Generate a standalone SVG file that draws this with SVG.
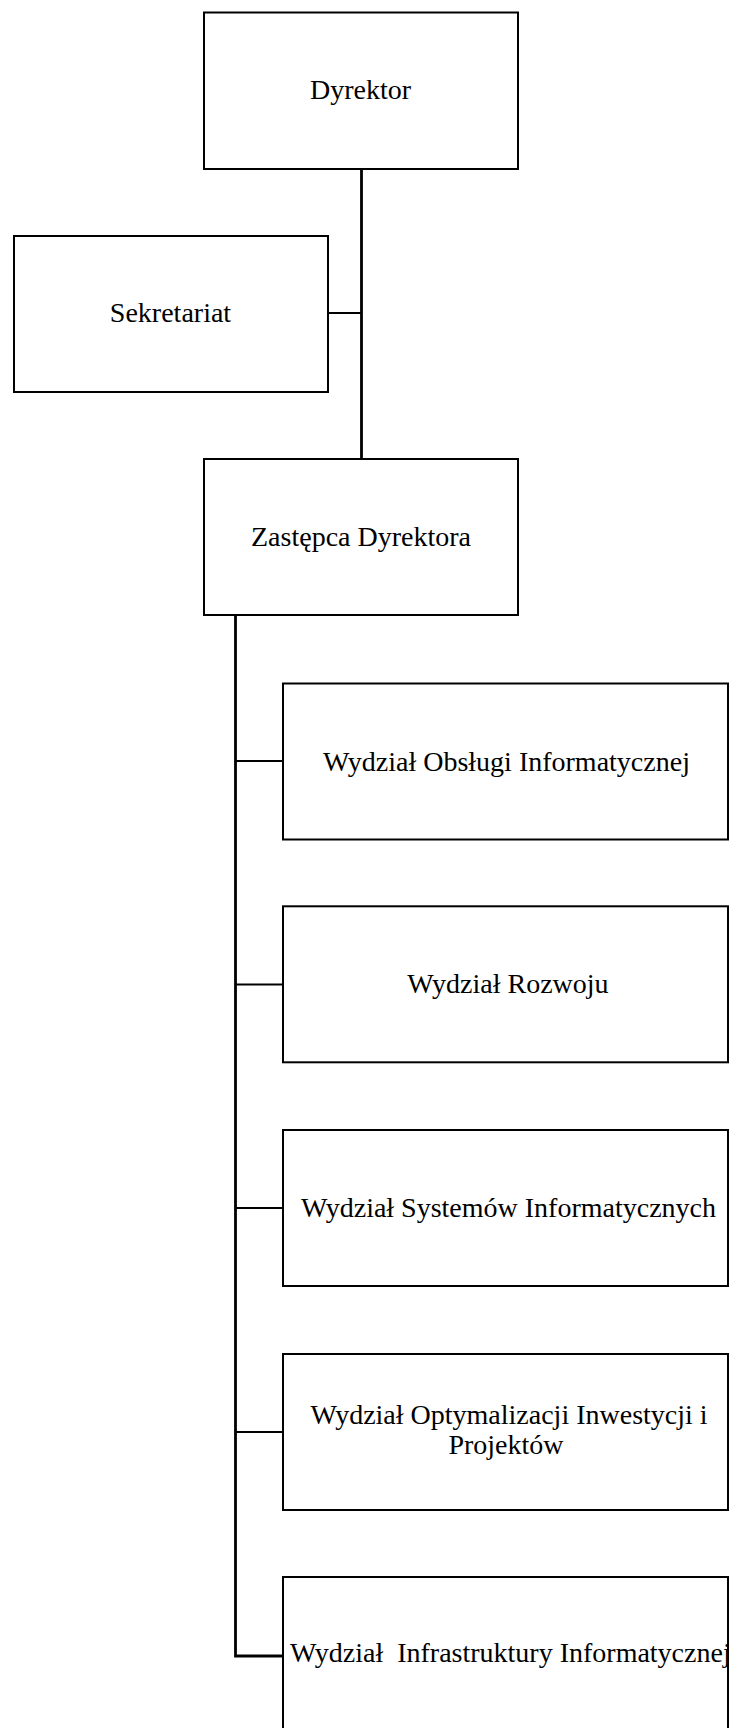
<svg xmlns="http://www.w3.org/2000/svg" width="729" height="1728" viewBox="0 0 729 1728">
<style>
.box{fill:#fff;stroke:#000;stroke-width:2}
.lbl{font-family:"Liberation Serif","Times New Roman",serif;font-size:28px;fill:#000;text-anchor:middle}
.conn{fill:none;stroke:#000;stroke-width:2}
.trunk{fill:none;stroke:#000;stroke-width:2.8}
</style>
<rect width="729" height="1728" fill="#fff"/>
<g id="connectors">
<path class="trunk" d="M361.5 169 V459"/>
<path class="conn" d="M328 313 H361.5"/>
<path class="trunk" d="M235.5 616 V1656 H283" stroke-linejoin="miter"/>
<path class="conn" d="M235.5 761 H283"/>
<path class="conn" d="M235.5 984.5 H283"/>
<path class="conn" d="M235.5 1208 H283"/>
<path class="conn" d="M235.5 1432 H283"/>
</g>
<g id="dyrektor">
<rect class="box" x="204" y="12.5" width="314" height="156.5"/>
<text class="lbl" x="360.5" y="98.5">Dyrektor</text>
</g>
<g id="sekretariat">
<rect class="box" x="14" y="236" width="314" height="156"/>
<text class="lbl" x="170.5" y="322">Sekretariat</text>
</g>
<g id="zastepca">
<rect class="box" x="204" y="459" width="314" height="156"/>
<text class="lbl" x="361" y="546">Zastępca Dyrektora</text>
</g>
<g id="wydzial-obslugi">
<rect class="box" x="283" y="683.5" width="445" height="156"/>
<text class="lbl" x="506.5" y="771">Wydział Obsługi Informatycznej</text>
</g>
<g id="wydzial-rozwoju">
<rect class="box" x="283" y="906.3" width="445" height="156"/>
<text class="lbl" x="508" y="993">Wydział Rozwoju</text>
</g>
<g id="wydzial-systemow">
<rect class="box" x="283" y="1130" width="445" height="156"/>
<text class="lbl" x="508.5" y="1217">Wydział Systemów Informatycznych</text>
</g>
<g id="wydzial-optymalizacji">
<rect class="box" x="283" y="1354" width="445" height="156"/>
<text class="lbl" x="509" y="1424">Wydział Optymalizacji Inwestycji i</text>
<text class="lbl" x="506" y="1453.5">Projektów</text>
</g>
<g id="wydzial-infrastruktury">
<rect class="box" x="283" y="1577" width="445" height="156"/>
<text class="lbl" x="290" y="1662" style="text-anchor:start;white-space:pre" xml:space="preserve">Wydział  Infrastruktury Informatycznej</text>
</g>
</svg>
